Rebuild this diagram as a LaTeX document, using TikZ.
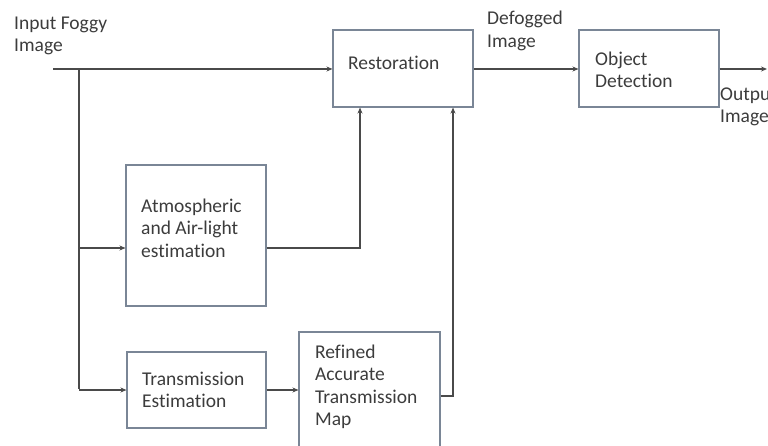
\documentclass[tikz,border=0pt]{standalone}
\usepackage{fontspec}
\setmainfont{Carlito}[Ligatures=NoCommon]
\usetikzlibrary{arrows.meta,calc}
\definecolor{boxc}{HTML}{7A8696}
\definecolor{linec}{HTML}{4A4A4A}
\definecolor{txtc}{HTML}{3C3C3C}
\tikzset{
  box/.style={draw=boxc, line width=1.1pt, rectangle, inner sep=0pt},
  lbl/.style={text=txtc, font=\fontsize{19.5}{22.5}\selectfont, align=left, anchor=west, inner sep=0pt},
  arr/.style={draw=linec, line width=1.3pt, -{Stealth[length=6pt,width=5pt]}},
  ln/.style={draw=linec, line width=1.3pt}
}
\begin{document}
\begin{tikzpicture}[x=1pt,y=-1pt]
\useasboundingbox (0,0) rectangle (768,446);
% boxes
\node[box, minimum width=140pt, minimum height=77pt] (rest) at (403,68.5) {};
\node[box, minimum width=140pt, minimum height=77pt] (obj) at (649,68.5) {};
\node[box, minimum width=140pt, minimum height=141pt] (atm) at (196,235.5) {};
\node[box, minimum width=139pt, minimum height=76pt] (trans) at (196.5,390) {};
\node[box, minimum width=141pt, minimum height=128pt] (ref) at (369.5,396) {};
% texts
\node[lbl] (tin) at (14,36) {Input Foggy\\Image};
\node[lbl] (trest) at (348,63) {Restoration};
\node[lbl] (tdef) at (487,31) {Defogged\\Image};
\node[lbl] (tobj) at (595,70) {Object\\Detection};
\node[lbl] (tout) at (720,107) {Output\\Image};
\node[lbl] (tatm) at (141,228) {Atmospheric\\and Air-light\\estimation};
\node[lbl] (ttrans) at (142,390) {Transmission\\Estimation};
\node[lbl] (tref) at (315,387) {Refined\\Accurate\\Transmission\\Map};
% connectors
\coordinate (in) at (53,69);
\coordinate (split) at (79,69);
\coordinate (out) at (767,69);
\draw[arr] (in) -- (rest.west |- in);
\draw[ln] (split) -- (79,389);
\draw[arr] (split |- 0,248) -- (atm.west |- 0,248);
\draw[arr] (split |- trans.west) -- (trans.west);
\draw[arr] (trans.east) -- (trans.east -| ref.west);
\draw[arr] (atm.east |- 0,248) -| ([xshift=-43pt]rest.south);
\draw[arr] (ref.east) -| ([xshift=50pt]rest.south);
\draw[arr] (rest.east |- in) -- (obj.west |- in);
\draw[arr] (obj.east |- in) -- (out);
\end{tikzpicture}
\end{document}
